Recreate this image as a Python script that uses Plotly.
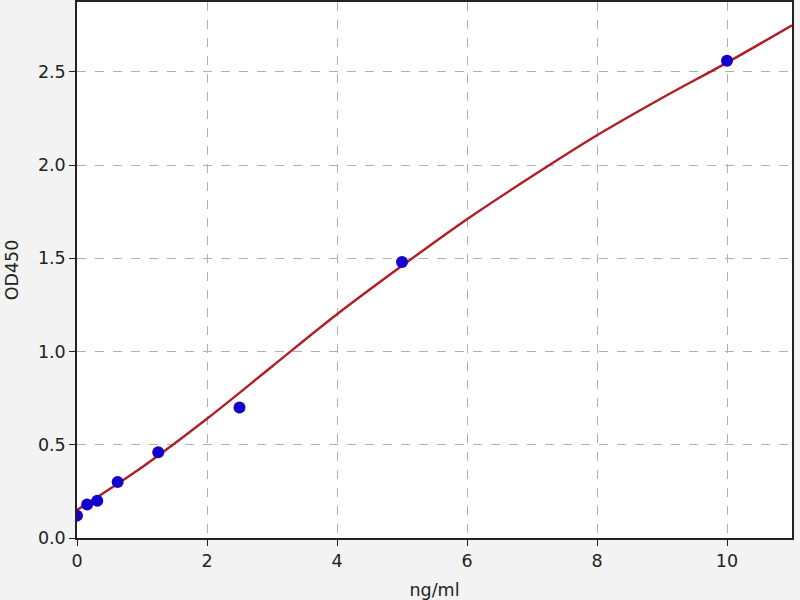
import plotly.graph_objects as go

# standards (ng/ml) and measured OD450
conc = [0, 0.156, 0.312, 0.625, 1.25, 2.5, 5, 10]
od450 = [0.12, 0.18, 0.20, 0.30, 0.46, 0.70, 1.48, 2.56]

# fitted curve
fit_x = [0, 1, 2, 3, 4, 5, 6, 7, 8, 9, 10, 11]
fit_y = [0.15, 0.38, 0.64, 0.92, 1.20, 1.46, 1.71, 1.94, 2.16, 2.36, 2.55, 2.75]

x_ticks = [0, 2, 4, 6, 8, 10]
y_ticks = [0.0, 0.5, 1.0, 1.5, 2.0, 2.5]

FONT = dict(family="DejaVu Sans", size=17.5, color="#222222")

fig = go.Figure()

fig.add_trace(go.Scatter(
    x=fit_x, y=fit_y,
    mode="lines",
    line=dict(color="#b01e26", width=2.4, shape="spline"),
    hoverinfo="skip",
))

fig.add_trace(go.Scatter(
    x=conc, y=od450,
    mode="markers",
    marker=dict(color="#1400cc", size=12, line=dict(width=0)),
))

axis_common = dict(
    showgrid=True,
    gridcolor="#b0b0b0",
    griddash="dash",
    gridwidth=1,
    zeroline=False,
    showline=True,
    linecolor="#222222",
    linewidth=1.5,
    mirror=True,
    ticks="outside",
    ticklen=6,
    tickwidth=1.2,
    tickcolor="#222222",
    tickfont=FONT,
    automargin=False,
)

fig.update_xaxes(
    range=[0, 11],
    tickvals=x_ticks,
    ticktext=[str(v) for v in x_ticks],
    title=dict(text="ng/ml", font=FONT, standoff=14),
    **axis_common,
)
fig.update_yaxes(
    range=[0, 2.875],
    tickvals=y_ticks,
    ticktext=[f"{v:.1f}" for v in y_ticks],
    title=dict(text="OD450", font=FONT, standoff=15),
    **axis_common,
)

fig.update_layout(
    width=800,
    height=600,
    showlegend=False,
    paper_bgcolor="#f3f3f3",
    plot_bgcolor="white",
    margin=dict(l=77, r=8, t=2, b=62),
)

# drop the default page margin so the figure sits at the window's corner
fig.write_html(
    "out.html",
    config={"displayModeBar": False},
    post_script="document.body.style.margin='0';",
)
